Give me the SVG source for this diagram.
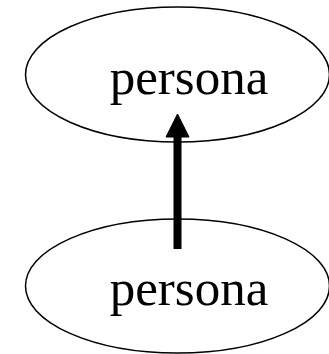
<svg xmlns="http://www.w3.org/2000/svg" width="329" height="354" viewBox="0 0 329 354">
<style>
.node ellipse{fill:none;stroke:#000;stroke-width:1.5}
.node text{font-family:"Liberation Serif",serif;font-size:51px;fill:#000;text-anchor:middle}
.edge line{stroke:#000;stroke-width:8}
.edge polygon{fill:#000;stroke:#000}
</style>
<rect width="329" height="354" fill="#fff"/>
<g id="node1" class="node">
<ellipse cx="177.5" cy="74.5" rx="152" ry="67.5"/>
<text x="189" y="94">persona</text>
</g>
<g id="node2" class="node">
<ellipse cx="177.5" cy="286" rx="152" ry="67"/>
<text x="189" y="305">persona</text>
</g>
<g id="edges" class="edge">
<line x1="177.5" y1="249" x2="177.5" y2="135"/>
<polygon points="166,137 189,137 177.5,114"/>
</g>
</svg>
